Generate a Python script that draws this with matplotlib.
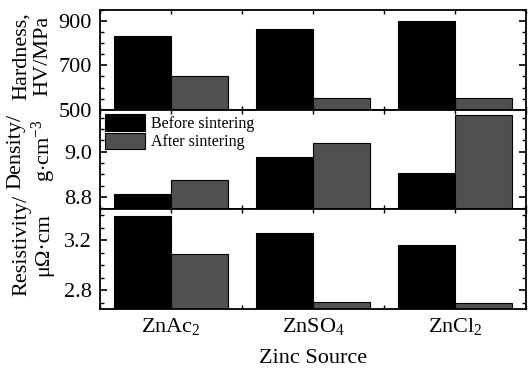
import numpy as np
import matplotlib
matplotlib.use('Agg')
import matplotlib.pyplot as plt
from matplotlib.ticker import MultipleLocator, FormatStrFormatter

plt.rcParams['font.family'] = 'Liberation Serif'
plt.rcParams['mathtext.fontset'] = 'custom'
plt.rcParams['mathtext.rm'] = 'Liberation Serif'
plt.rcParams['mathtext.it'] = 'Liberation Serif:italic'

sources = ['ZnAc$_2$', 'ZnSO$_4$', 'ZnCl$_2$']
hard_before = [831, 863, 901]
hard_after = [652, 552, 552]
dens_before = [8.812, 8.978, 8.907]
dens_after = [8.877, 9.038, 9.162]
res_before = [3.394, 3.256, 3.158]
res_after = [3.086, 2.706, 2.694]

x = np.arange(1, len(sources) + 1)
w = 0.4
black = '#000000'
gray = '#505050'

fig = plt.figure(figsize=(5.32, 3.69), dpi=100)
gs = fig.add_gridspec(3, 1, left=0.188, right=0.9887, top=0.9729, bottom=0.1626, hspace=0)
axes = [fig.add_subplot(gs[i]) for i in range(3)]

panels = [
    (hard_before, hard_after, (500, 950), 200, 50),
    (dens_before, dens_after, (8.745, 9.186), 0.2, 0.05),
    (res_before, res_after, (2.648, 3.448), 0.4, 0.1),
]

for ax, (b, a, lim, maj, mnr) in zip(axes, panels):
    ax.bar(x - w / 2, np.array(b) - lim[0], w, bottom=lim[0], color=black,
           edgecolor='black', linewidth=0.8, label='Before sintering')
    ax.bar(x + w / 2, np.array(a) - lim[0], w, bottom=lim[0], color=gray,
           edgecolor='black', linewidth=0.8, label='After sintering')
    ax.set_ylim(*lim)
    ax.set_xlim(0.5, 3.5)
    ax.yaxis.set_major_locator(MultipleLocator(maj))
    ax.yaxis.set_minor_locator(MultipleLocator(mnr))
    ax.set_xticks(x)
    ax.xaxis.set_minor_locator(MultipleLocator(0.5))
    ax.tick_params(axis='y', which='major', direction='in', length=5, width=1.2, labelsize=16, pad=6)
    ax.tick_params(axis='y', which='minor', direction='in', length=3, width=1.0)
    ax.tick_params(axis='x', which='both', direction='in', length=3, width=1.0, top=True)
    ax.tick_params(axis='y', which='both', right=True)
    for s in ax.spines.values():
        s.set_linewidth(1.3)
    ax.set_xticklabels([])

axes[0].set_yticks([500, 700, 900])
axes[1].set_yticks([8.8, 9.0])
axes[1].yaxis.set_major_formatter(FormatStrFormatter('%.1f'))
axes[2].set_yticks([2.8, 3.2])
axes[2].yaxis.set_major_formatter(FormatStrFormatter('%.1f'))

axes[2].set_xticklabels(sources, fontsize=16)
axes[2].tick_params(axis='x', which='major', pad=5)
axes[2].set_xlabel('Zinc Source', fontsize=16, labelpad=9)

axes[1].legend(loc='upper left', frameon=False, fontsize=11.5, handlelength=2.5,
               handleheight=1.2, labelspacing=0.05, handletextpad=0.4,
               borderaxespad=0.2, borderpad=0.1)

lab = dict(rotation=90, ha='center', va='center', fontsize=16, linespacing=1.2)
fig.text(0.061, 1 - 56 / 369, 'Hardness,\nHV/MPa', **lab)
fig.text(0.061, 1 - 151 / 369, 'Density/\ng$\\cdot$cm$^{-3}$', **lab)
fig.text(0.061, 1 - 245 / 369, 'Resistivity/\n\u03bc\u03a9\u00b7cm', **lab)

fig.savefig('out.png', dpi=100)
